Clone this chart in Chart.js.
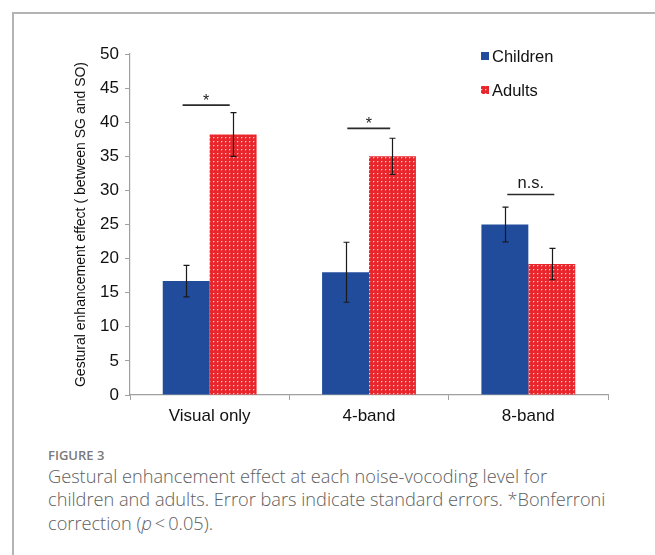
<!DOCTYPE html>
<html>
<head>
<meta charset="utf-8">
<script src="https://cdn.jsdelivr.net/npm/chart.js@4/dist/chart.umd.min.js"></script>
<style>
  html, body { margin: 0; padding: 0; background: #fff; }
  body { width: 655px; height: 555px; position: relative; overflow: hidden; }
  #frame { position: absolute; left: 12px; top: 12px; width: 700px; height: 600px;
           border-left: 2px solid #b4b4b4; border-top: 2px solid #b4b4b4; }
  #wrap { position: absolute; left: 0; top: 0; width: 655px; height: 440px; }
  #fig { position: absolute; left: 48px; top: 446px; font-family: "Open Sans", sans-serif;
         font-size: 13px; font-weight: 600; color: #7a7a7a; }
  #cap { position: absolute; left: 48px; top: 465px; font-family: "Open Sans", sans-serif;
         font-size: 18.2px; font-weight: 300; color: #5e5e5e; line-height: 23.3px; white-space: nowrap; }
</style>
</head>
<body>
<div id="frame"></div>
<div id="wrap"><canvas id="c" width="655" height="440"></canvas></div>
<div id="fig">FIGURE 3</div>
<div id="cap">Gestural enhancement effect at each noise-vocoding level for<br>children and adults. Error bars indicate standard errors. *Bonferroni<br>correction (<i>p</i>&thinsp;&lt;&thinsp;0.05).</div>
<script>
// Noise-vocoding levels
const categories = ["Visual only", "4-band", "8-band"];
// Gestural enhancement effect (mean) per group
const childrenMeans = [16.7, 18.0, 25.0];
const adultsMeans   = [38.2, 35.0, 19.2];
// Standard errors per group
const childrenSE = [2.3, 4.4, 2.55];
const adultsSE   = [3.2, 2.65, 2.3];
// Y axis ticks
const yMin = 0, yMax = 50, yStep = 5;
// Significance brackets: level on the y axis, label, span in category units around the category centre
const sigLevels = [42.5, 39.1, 29.4];
const sigLabels = ["*", "*", "n.s."];
const sigFrom   = [-0.17, -0.136, -0.132];
const sigTo     = [0.126, 0.133, 0.163];

const BLUE = "#214c9c";
const RED = "#e9262c";
const AXIS_FONT = "'Liberation Sans', Arial";

// Red fill with a fine grid of light dots
function dotPattern() {
  const t = document.createElement("canvas");
  t.width = 4; t.height = 4;
  const g = t.getContext("2d");
  g.fillStyle = RED;
  g.fillRect(0, 0, 4, 4);
  g.fillStyle = "rgba(255,235,235,0.85)";
  g.fillRect(1, 1, 1, 1);
  g.fillStyle = "rgba(255,200,200,0.35)";
  g.fillRect(2, 1, 1, 1);
  g.fillRect(1, 2, 1, 1);
  return g.createPattern(t, "repeat");
}
const ctx = document.getElementById("c").getContext("2d");
const redDots = dotPattern();

const errorBars = {
  id: "errorBars",
  afterDatasetsDraw(chart) {
    const c = chart.ctx, y = chart.scales.y;
    const sets = [childrenSE, adultsSE];
    c.save();
    c.strokeStyle = "#1a1a1a";
    c.lineWidth = 1.2;
    chart.data.datasets.forEach((ds, i) => {
      chart.getDatasetMeta(i).data.forEach((bar, j) => {
        const v = ds.data[j], e = sets[i][j];
        const x = Math.round(bar.x) + 0.5;
        const top = y.getPixelForValue(v + e), bot = y.getPixelForValue(v - e);
        c.beginPath();
        c.moveTo(x, top); c.lineTo(x, bot);
        c.moveTo(x - 3, top); c.lineTo(x + 3, top);
        c.moveTo(x - 3, bot); c.lineTo(x + 3, bot);
        c.stroke();
      });
    });
    c.restore();
  }
};

const sigMarks = {
  id: "sigMarks",
  afterDatasetsDraw(chart) {
    const c = chart.ctx, xs = chart.scales.x, ys = chart.scales.y;
    c.save();
    c.strokeStyle = "#2a2a2a";
    c.fillStyle = "#1a1a1a";
    c.lineWidth = 1.6;
    c.textAlign = "center";
    c.textBaseline = "alphabetic";
    sigLevels.forEach((lvl, i) => {
      const x1 = xs.getPixelForValue(i + sigFrom[i]);
      const x2 = xs.getPixelForValue(i + sigTo[i]);
      const yy = ys.getPixelForValue(lvl);
      c.beginPath();
      c.moveTo(x1, yy); c.lineTo(x2, yy);
      c.stroke();
      const star = sigLabels[i] === "*";
      c.font = (star ? "16px " : "16.5px ") + AXIS_FONT;
      c.fillText(sigLabels[i], (x1 + x2) / 2, yy - (star ? -1 : 6));
    });
    c.restore();
  }
};

const sideLegend = {
  id: "sideLegend",
  afterDraw(chart) {
    const c = chart.ctx;
    c.save();
    c.font = "16.5px " + AXIS_FONT;
    c.textBaseline = "middle";
    chart.data.datasets.forEach((ds, i) => {
      const cy = 56 + i * 34;
      c.fillStyle = ds.backgroundColor;
      c.fillRect(481, cy - 4, 8, 8);
      c.fillStyle = "#111";
      c.fillText(ds.label, 492, cy + 1);
    });
    c.restore();
  }
};

new Chart(ctx, {
  type: "bar",
  data: {
    labels: categories,
    datasets: [
      { label: "Children", data: childrenMeans, backgroundColor: BLUE, borderWidth: 0 },
      { label: "Adults", data: adultsMeans, backgroundColor: redDots, borderWidth: 0 }
    ]
  },
  options: {
    responsive: false,
    animation: false,
    categoryPercentage: 0.589,
    barPercentage: 1,
    layout: { padding: { left: 0, right: 47, top: 54, bottom: 0 } },
    plugins: { legend: { display: false }, tooltip: { enabled: false } },
    scales: {
      x: {
        afterFit: s => { s.height = 45; },
        grid: { offset: true, drawOnChartArea: false, tickLength: 5, color: "#a0a0a0" },
        border: { color: "#a0a0a0", width: 1.2 },
        ticks: { color: "#111", padding: 6, font: { family: AXIS_FONT, size: 17 } }
      },
      y: {
        min: yMin, max: yMax,
        afterFit: s => { s.width = 130; },
        grid: { drawOnChartArea: false, tickLength: 5, color: "#a0a0a0" },
        border: { color: "#a0a0a0", width: 1.2 },
        ticks: { stepSize: yStep, color: "#111", padding: 6, font: { family: AXIS_FONT, size: 17 } },
        title: {
          display: true,
          text: "Gestural enhancement effect ( between SG and SO)",
          color: "#111",
          font: { family: AXIS_FONT, size: 14, lineHeight: 1.2 },
          padding: { top: 73, bottom: 0 }
        }
      }
    }
  },
  plugins: [errorBars, sigMarks, sideLegend]
});
</script>
</body>
</html>
